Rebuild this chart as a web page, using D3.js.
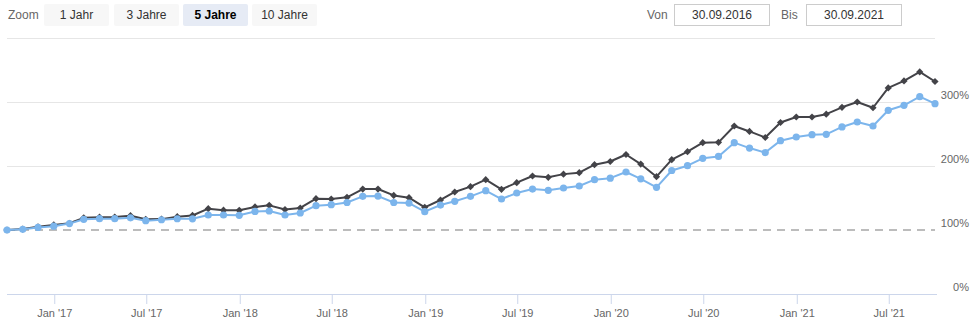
<!DOCTYPE html>
<html>
<head>
<meta charset="utf-8">
<script src="https://cdn.jsdelivr.net/npm/d3@7"></script>
<style>
  html, body { margin: 0; padding: 0; background: #fff; }
  svg { display: block; font-family: "Liberation Sans", Arial, sans-serif; }
</style>
</head>
<body>
<svg id="chart" width="977" height="331"></svg>
<script>
// Month keys (values taken at month end)
const months = [
  "2016-09","2016-10","2016-11","2016-12",
  "2017-01","2017-02","2017-03","2017-04","2017-05","2017-06","2017-07","2017-08","2017-09","2017-10","2017-11","2017-12",
  "2018-01","2018-02","2018-03","2018-04","2018-05","2018-06","2018-07","2018-08","2018-09","2018-10","2018-11","2018-12",
  "2019-01","2019-02","2019-03","2019-04","2019-05","2019-06","2019-07","2019-08","2019-09","2019-10","2019-11","2019-12",
  "2020-01","2020-02","2020-03","2020-04","2020-05","2020-06","2020-07","2020-08","2020-09","2020-10","2020-11","2020-12",
  "2021-01","2021-02","2021-03","2021-04","2021-05","2021-06","2021-07","2021-08","2021-09"
];

// Fund (dark) and benchmark (blue), indexed to 100 at start
const fundValues = [
  100, 101.5, 105, 108, 110.5, 119, 120, 120.3, 122.4, 116.7, 117, 120.8, 122.7,
  133.3, 131, 130.7, 136, 138.5, 132, 134.4, 149, 148.4, 151, 164, 164,
  154, 150.5, 135.4, 146.9, 159.4, 167.7, 178.6, 163.5, 174, 184.4, 182.3, 187.3,
  189.6, 202, 207, 218, 203, 183.3, 209.9, 222.4, 236.5, 237, 262.5, 254,
  244.5, 268, 276.6, 276.6, 281, 291.7, 300, 291, 322, 333, 347, 332
];
const benchValues = [
  100, 101, 104, 106, 110, 116.7, 117.7, 117.7, 119, 114.6, 116, 117.6, 117.5,
  123.4, 123.4, 123, 129, 129.7, 123.4, 126.6, 138, 139.6, 143, 152.6, 153,
  143, 142, 128.6, 139, 144.8, 152.6, 161.5, 148.4, 157.8, 164, 162, 165.6,
  168.75, 178.6, 181, 190.6, 180, 166.7, 193, 200.5, 212, 215, 236.5, 228,
  221, 239.6, 245.3, 249, 249.5, 261, 268.75, 262.5, 287, 294.8, 308.3, 297.4
];

const yTicks = [0, 100, 200, 300, 400];
const yLabelTicks = [0, 100, 200, 300];
const rangeButtons = ["1 Jahr", "3 Jahre", "5 Jahre", "10 Jahre"];
const selectedRange = "5 Jahre";
const dateFrom = "30.09.2016";
const dateTo = "30.09.2021";

const monthNames = ["Jan","Feb","Mar","Apr","May","Jun","Jul","Aug","Sep","Oct","Nov","Dec"];

const parseMonth = d3.timeParse("%Y-%m");
const dates = months.map(m => d3.timeDay.offset(d3.timeMonth.offset(parseMonth(m), 1), -1));

const svg = d3.select("#chart");
const plot = { left: 7, right: 935, top: 38, bottom: 294 };

const x = d3.scaleTime()
  .domain([dates[0], dates[dates.length - 1]])
  .range([plot.left, plot.right]);
const y = d3.scaleLinear().domain([0, 400]).range([plot.bottom, plot.top]);

// ---------- range selector ----------
const ui = svg.append("g");
ui.append("text").attr("x", 8).attr("y", 19).attr("fill", "#666")
  .style("font-size", "12px").text("Zoom");
const btnX = [44, 114, 183, 252];
rangeButtons.forEach((label, i) => {
  const sel = label === selectedRange;
  const g = ui.append("g").attr("transform", `translate(${btnX[i]},4)`);
  g.append("rect").attr("width", 65).attr("height", 22).attr("rx", 2)
    .attr("fill", sel ? "#e6ebf5" : "#f7f7f7");
  g.append("text").attr("x", 32.5).attr("y", 15).attr("text-anchor", "middle")
    .attr("fill", sel ? "#000" : "#333")
    .style("font-size", "12px").style("font-weight", sel ? "bold" : "normal")
    .text(label);
});

// ---------- date inputs ----------
const inputs = [
  { label: "Von", lx: 647, bx: 674, value: dateFrom },
  { label: "Bis", lx: 781, bx: 806, value: dateTo }
];
inputs.forEach(d => {
  ui.append("text").attr("x", d.lx).attr("y", 19).attr("fill", "#666")
    .style("font-size", "12px").text(d.label);
  ui.append("rect").attr("x", d.bx + 0.5).attr("y", 4.5).attr("width", 95).attr("height", 21)
    .attr("fill", "#fff").attr("stroke", "#ccc");
  ui.append("text").attr("x", d.bx + 48).attr("y", 19).attr("text-anchor", "middle")
    .attr("fill", "#333").style("font-size", "12px").text(d.value);
});

// ---------- grid ----------
const grid = svg.append("g");
grid.selectAll("line.grid")
  .data(yTicks.filter(t => t > 100))
  .join("line")
  .attr("x1", plot.left).attr("x2", plot.right)
  .attr("y1", d => Math.round(y(d)) + 0.5).attr("y2", d => Math.round(y(d)) + 0.5)
  .attr("stroke", "#e6e6e6");

// 100% reference line
grid.append("line")
  .attr("x1", plot.left).attr("x2", plot.right)
  .attr("y1", y(100)).attr("y2", y(100))
  .attr("stroke", "#a6a6a6").attr("stroke-width", 1.5)
  .attr("stroke-dasharray", "8,6");

// ---------- y labels (right) ----------
svg.append("g").selectAll("text")
  .data(yLabelTicks)
  .join("text")
  .attr("x", 969).attr("y", d => y(d) - 3)
  .attr("text-anchor", "end").attr("fill", "#666")
  .style("font-size", "11px")
  .text(d => d + "%");

// ---------- x axis ----------
const xTicks = d3.timeMonth.every(6).range(new Date(2017, 0, 1), new Date(2021, 9, 1))
  .filter(d => d.getMonth() === 0 || d.getMonth() === 6);
const xAxis = d3.axisBottom(x)
  .tickValues(xTicks)
  .tickSize(10)
  .tickPadding(5)
  .tickFormat(d => monthNames[d.getMonth()] + " '" + String(d.getFullYear()).slice(2));
const gx = svg.append("g")
  .attr("transform", `translate(0,${plot.bottom})`)
  .call(xAxis);
gx.select(".domain").attr("stroke", "#ccd6eb").attr("d", `M${plot.left},0.5H${plot.right + 2}`);
gx.selectAll(".tick line").attr("stroke", "#ccd6eb");
gx.selectAll(".tick text").attr("fill", "#666")
  .style("font-size", "11px").style("font-family", "'Liberation Sans', Arial, sans-serif");

// ---------- series ----------
const line = d3.line().x((d, i) => x(dates[i])).y(d => y(d));

svg.append("path").datum(fundValues)
  .attr("d", line).attr("fill", "none")
  .attr("stroke", "#434348").attr("stroke-width", 2).attr("stroke-linejoin", "round");
svg.append("g").selectAll("path")
  .data(fundValues)
  .join("path")
  .attr("transform", (d, i) => `translate(${x(dates[i])},${y(d)})`)
  .attr("d", "M0,-3.6L3.6,0L0,3.6L-3.6,0Z")
  .attr("fill", "#434348");

svg.append("path").datum(benchValues)
  .attr("d", line).attr("fill", "none")
  .attr("stroke", "#7cb5ec").attr("stroke-width", 2).attr("stroke-linejoin", "round");
svg.append("g").selectAll("circle")
  .data(benchValues)
  .join("circle")
  .attr("cx", (d, i) => x(dates[i])).attr("cy", d => y(d))
  .attr("r", 3.6)
  .attr("fill", "#7cb5ec");
</script>
</body>
</html>
